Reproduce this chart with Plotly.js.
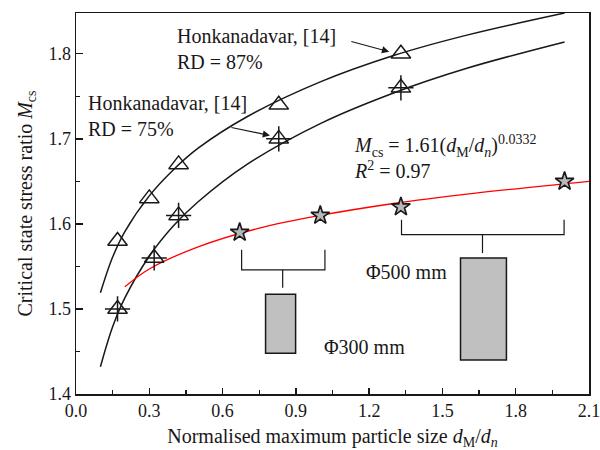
<!DOCTYPE html>
<html>
<head>
<meta charset="utf-8">
<script src="https://cdn.plot.ly/plotly-3.0.1.min.js"></script>
<style>html,body{margin:0;padding:0;background:#fff}#chart{width:600px;height:450px}</style>
</head>
<body>
<div id="chart"></div>
<script>
// Measured points
const rd87X = [0.17, 0.30, 0.42, 0.83, 1.33];
const rd87Y = [1.58, 1.63, 1.67, 1.74, 1.80];
const rd75X = [0.17, 0.32, 0.42, 0.83, 1.33];
const rd75Y = [1.50, 1.56, 1.61, 1.70, 1.76];
const starX = [0.67, 1.00, 1.33, 2.00];
const starY = [1.59, 1.61, 1.62, 1.65];
// Fitted curves
const curve87X = [0.10, 0.15, 0.20, 0.30, 0.40, 0.50, 0.70, 1.00, 1.30, 1.60, 2.00];
const curve87Y = [1.519, 1.561, 1.591, 1.633, 1.664, 1.689, 1.726, 1.767, 1.798, 1.822, 1.848];
const curve75X = [0.10, 0.15, 0.20, 0.30, 0.40, 0.50, 0.70, 1.00, 1.30, 1.60, 2.00];
const curve75Y = [1.432, 1.479, 1.513, 1.562, 1.598, 1.626, 1.670, 1.718, 1.754, 1.783, 1.814];
const fitX = [0.20, 0.30, 0.50, 0.75, 1.00, 1.30, 1.60, 2.10];
const fitY = [1.526, 1.547, 1.573, 1.595, 1.610, 1.624, 1.635, 1.650];
const xTicks = [0.0, 0.3, 0.6, 0.9, 1.2, 1.5, 1.8, 2.1];
const yTicks = [1.4, 1.5, 1.6, 1.7, 1.8];

const FONT = "Liberation Serif, Times New Roman, serif";
const INK = "#1a1718";

const traces = [
  {x: curve87X, y: curve87Y, mode: 'lines', line: {color: INK, width: 1.5, shape: 'spline'}, hoverinfo: 'skip'},
  {x: curve75X, y: curve75Y, mode: 'lines', line: {color: INK, width: 1.5, shape: 'spline'}, hoverinfo: 'skip'},
  {x: fitX, y: fitY, mode: 'lines', line: {color: '#ff0000', width: 1.3, shape: 'spline'}, hoverinfo: 'skip'},
  {x: rd87X, y: rd87Y, mode: 'markers', marker: {symbol: 'triangle-up-open', size: 17, color: INK, line: {width: 1.5, color: INK}}},
  {x: rd75X, y: rd75Y, mode: 'markers', marker: {symbol: 'triangle-up-open', size: 17, color: INK, line: {width: 1.5, color: INK}}},
  {x: rd75X, y: rd75Y, mode: 'markers', marker: {symbol: 'cross-thin-open', size: 18, color: INK, line: {width: 1.5, color: INK}}},
  {x: starX, y: starY, mode: 'markers', marker: {symbol: 'star', size: 14, color: '#b8b8b8', line: {width: 1.6, color: INK}}}
];

const lineStyle = {color: INK, width: 1.2};
const shapes = [
  // Phi300 bracket
  {type: 'path', xref: 'x', yref: 'y', path: 'M 0.678 1.5696 L 0.678 1.546 L 1.019 1.546 L 1.019 1.5696', line: lineStyle},
  {type: 'line', xref: 'x', yref: 'y', x0: 0.846, x1: 0.846, y0: 1.546, y1: 1.525, line: lineStyle},
  {type: 'rect', xref: 'x', yref: 'y', x0: 0.776, x1: 0.899, y0: 1.448, y1: 1.5174, fillcolor: '#c0c0c0', line: {color: INK, width: 1.5}},
  // Phi500 bracket
  {type: 'path', xref: 'x', yref: 'y', path: 'M 1.3325 1.605 L 1.3325 1.5873 L 1.998 1.5873 L 1.998 1.605', line: lineStyle},
  {type: 'line', xref: 'x', yref: 'y', x0: 1.664, x1: 1.664, y0: 1.5873, y1: 1.5657, line: lineStyle},
  {type: 'rect', xref: 'x', yref: 'y', x0: 1.574, x1: 1.762, y0: 1.44, y1: 1.5598, fillcolor: '#c0c0c0', line: {color: INK, width: 1.5}}
];

const tf = {family: FONT, size: 20, color: INK};
const annotations = [
  {x: 0.405, y: 1.806, xref: 'x', yref: 'y', text: 'Honkanadavar, [14]<br>RD = 87%', showarrow: false, xanchor: 'left', yanchor: 'middle', align: 'left', font: tf},
  {x: 0.041, y: 1.727, xref: 'x', yref: 'y', text: 'Honkanadavar, [14]<br>RD = 75%', showarrow: false, xanchor: 'left', yanchor: 'middle', align: 'left', font: tf},
  {x: 1.282, y: 1.8025, ax: 1.121, ay: 1.815, xref: 'x', yref: 'y', axref: 'x', ayref: 'y', text: '', showarrow: true, arrowhead: 2, arrowsize: 1.2, arrowwidth: 1.2, arrowcolor: INK},
  {x: 0.794, y: 1.704, ax: 0.630, ay: 1.7137, xref: 'x', yref: 'y', axref: 'x', ayref: 'y', text: '', showarrow: true, arrowhead: 2, arrowsize: 1.2, arrowwidth: 1.2, arrowcolor: INK},
  {x: 1.128, y: 1.679, xref: 'x', yref: 'y', text: '<i>M</i><sub>cs</sub> = 1.61(<i>d</i><sub>M</sub>/<i>d</i><sub><i>n</i></sub>)<sup>0.0332</sup><br><i>R</i><sup>2</sup> = 0.97', showarrow: false, xanchor: 'left', yanchor: 'middle', align: 'left', font: tf},
  {x: 1.178, y: 1.5437, xref: 'x', yref: 'y', text: 'Φ500 mm', showarrow: false, xanchor: 'left', yanchor: 'middle', font: tf},
  {x: 1.006, y: 1.455, xref: 'x', yref: 'y', text: 'Φ300 mm', showarrow: false, xanchor: 'left', yanchor: 'middle', font: tf}
];

const layout = {
  width: 600, height: 450,
  margin: {l: 76, r: 11, t: 13, b: 56},
  paper_bgcolor: '#fff', plot_bgcolor: '#fff',
  showlegend: false,
  font: {family: FONT, color: INK},
  xaxis: {
    range: [0, 2.1], tickvals: xTicks, ticktext: xTicks.map(v => v.toFixed(1)),
    ticklabeloverflow: 'allow',
    ticks: 'inside', ticklen: 6, tickwidth: 1.3, tickcolor: INK,
    minor: {dtick: 0.15, tick0: 0, ticks: 'inside', ticklen: 4, tickwidth: 1.2, tickcolor: INK},
    showline: true, linecolor: INK, linewidth: 1.5, mirror: true, showgrid: false, zeroline: false,
    tickfont: {family: FONT, size: 18, color: INK},
    title: {text: 'Normalised maximum particle size <i>d</i><sub>M</sub>/<i>d</i><sub><i>n</i></sub>', font: {family: FONT, size: 20, color: INK}, standoff: 9}
  },
  yaxis: {
    range: [1.4, 1.848], tickvals: yTicks, ticktext: yTicks.map(v => v.toFixed(1)),
    ticklabeloverflow: 'allow',
    ticks: 'inside', ticklen: 7, tickwidth: 1.3, tickcolor: INK,
    minor: {dtick: 0.05, tick0: 1.4, ticks: 'inside', ticklen: 4, tickwidth: 1.2, tickcolor: INK},
    showline: true, linecolor: INK, linewidth: 1.5, mirror: true, showgrid: false, zeroline: false,
    tickfont: {family: FONT, size: 18, color: INK},
    title: {text: 'Critical state stress ratio <i>M</i><sub>cs</sub>', font: {family: FONT, size: 20, color: INK}, standoff: 10}
  },
  shapes: shapes,
  annotations: annotations
};

Plotly.newPlot('chart', traces, layout, {staticPlot: true, displayModeBar: false});
</script>
</body>
</html>
